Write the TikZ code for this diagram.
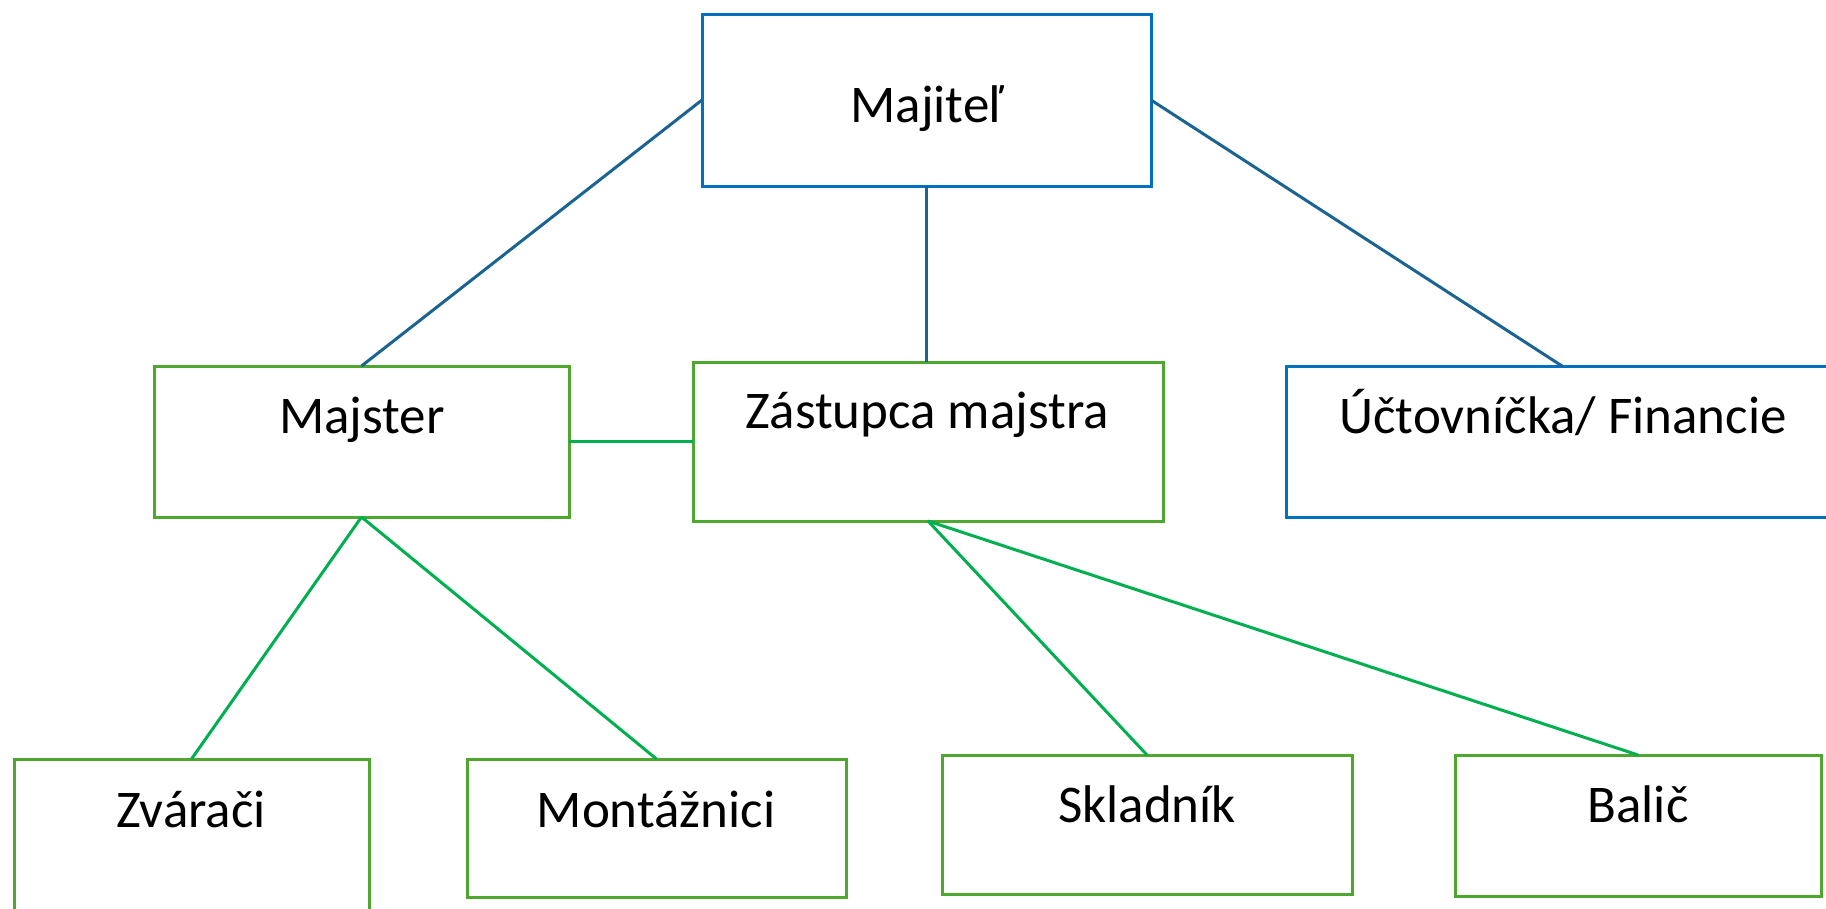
\documentclass[tikz,border=0pt]{standalone}
\usepackage{fontspec}
\setmainfont{Carlito}
\definecolor{boxblue}{HTML}{0070C0}
\definecolor{lineblue}{HTML}{1B6491}
\definecolor{boxgreen}{HTML}{4EA72E}
\definecolor{linegreen}{HTML}{00B050}
\tikzset{
  bluebox/.style={draw=boxblue, line width=3pt, rectangle, inner sep=0pt, outer sep=0pt},
  greenbox/.style={draw=boxgreen, line width=3pt, rectangle, inner sep=0pt, outer sep=0pt},
  bluelink/.style={draw=lineblue, line width=3pt},
  greenlink/.style={draw=linegreen, line width=3pt},
  lbl/.style={anchor=base, inner sep=0pt, font=\fontsize{53pt}{60pt}\selectfont}
}
\begin{document}
\begin{tikzpicture}[x=1pt, y=-1pt]
\useasboundingbox (0,0) rectangle (1826,908);
\begin{scope}
\clip (0,0) rectangle (1826,908);
% boxes
\node[bluebox, minimum width=449pt, minimum height=172pt] (maj) at (926.5,100) {};
\node[greenbox, minimum width=415pt, minimum height=151pt] (mst) at (361.5,441.5) {};
\node[greenbox, minimum width=470pt, minimum height=159pt] (zas) at (928,441.5) {};
\node[bluebox, minimum width=552pt, minimum height=151pt] (uct) at (1562,441.5) {};
\node[greenbox, minimum width=355pt, minimum height=171pt] (zva) at (191.5,844.5) {};
\node[greenbox, minimum width=379pt, minimum height=138pt] (mon) at (656.5,828) {};
\node[greenbox, minimum width=410pt, minimum height=139pt] (skl) at (1147,824.5) {};
\node[greenbox, minimum width=366pt, minimum height=141pt] (bal) at (1638,825.5) {};
% connectors
\draw[bluelink] (maj.west) -- (mst.north);
\draw[bluelink] (maj.south) -- (maj.south |- zas.north);
\draw[bluelink] (maj.east) -- (uct.north);
\draw[greenlink] (mst.east) -- (zas.west);
\draw[greenlink] (mst.south) -- (zva.north);
\draw[greenlink] (mst.south) -- (mon.north);
\draw[greenlink] (zas.south) -- (skl.north);
\draw[greenlink] (zas.south) -- (bal.north);
% labels
\node[lbl] (tmaj) at (927,122.7) {Majiteľ};
\node[lbl] (tmst) at (362,433) {Majster};
\node[lbl] (tzas) at (927,428) {Zástupca majstra};
\node[lbl] (tuct) at (1563,433) {Účtovníčka/ Financie};
\node[lbl] (tzva) at (191,827) {Zvárači};
\node[lbl] (tmon) at (656,827) {Montážnici};
\node[lbl] (tskl) at (1147,822) {Skladník};
\node[lbl] (tbal) at (1638,822) {Balič};
\end{scope}
\end{tikzpicture}
\end{document}
